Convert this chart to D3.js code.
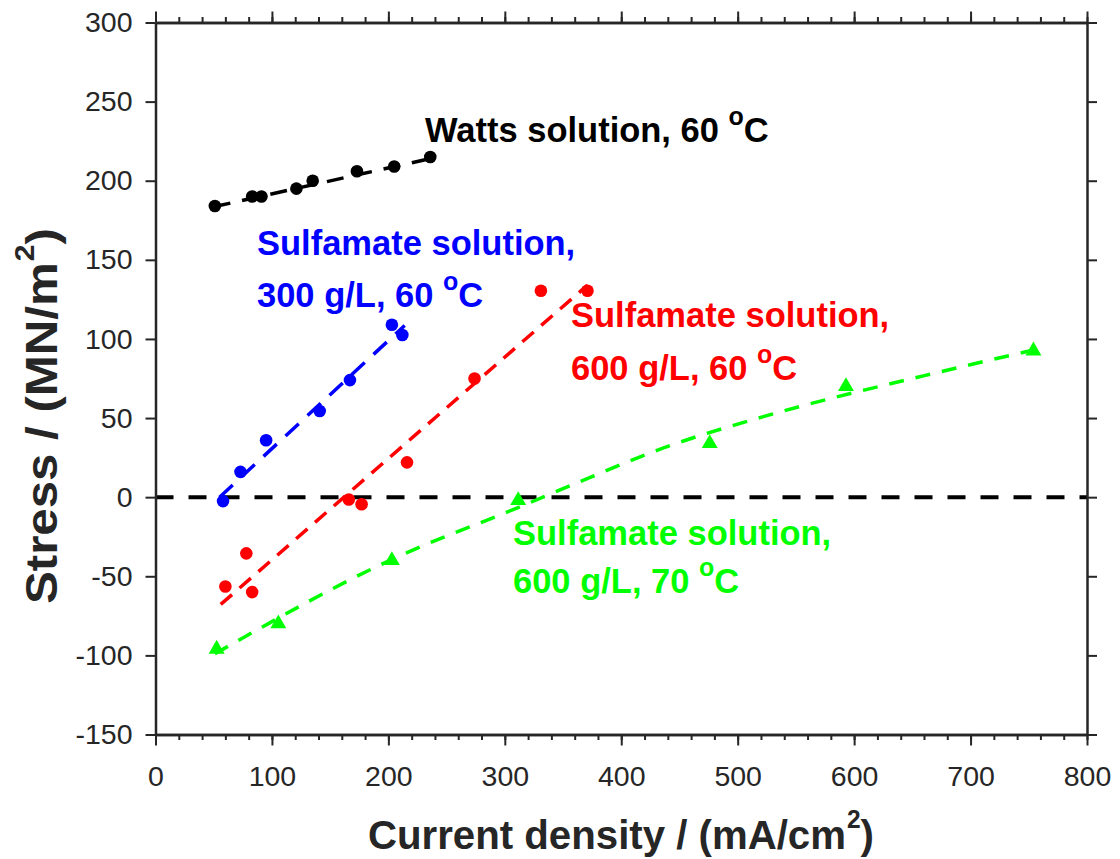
<!DOCTYPE html>
<html lang="en">

<head>
  <meta charset="UTF-8">
  <title>Stress vs current density</title>
  <script src="https://d3js.org/d3.v7.min.js"></script>
  <style>
    body {
      margin: 0;
      background: white;
    }

    svg {
      display: block;
      font-family: "Liberation Sans", Arial, sans-serif;
    }

    .tick text {
      font-size: 28.5px;
      fill: #262626;
    }

    .label {
      font-size: 34.5px;
      font-weight: bold;
    }

    .title {
      font-weight: bold;
      fill: #262626;
    }
  </style>
</head>

<body>
  <div id="chart"></div>

  <script>
    // Watts solution, 60 C
    const wattsX = [51, 83, 91, 121, 135, 173, 205, 236]
    const wattsY = [184, 190, 190, 195, 200, 206, 209, 215]
    const wattsFitX = [50, 236]
    const wattsFitY = [183.5, 214]

    // Sulfamate 300 g/L, 60 C
    const s300X = [58, 73, 95, 141, 167, 203, 212]
    const s300Y = [-2.5, 16, 36, 54.5, 74, 109, 102.5]
    const s300FitX = [55, 214]
    const s300FitY = [0, 108.5]

    // Sulfamate 600 g/L, 60 C
    const s600X = [60, 78, 83, 166, 177, 216, 274, 331, 371]
    const s600Y = [-56.5, -35.5, -60, -1.5, -4.5, 22, 75, 130.5, 130.5]
    const s600FitX = [56, 371]
    const s600FitY = [-67.8, 134]

    // Sulfamate 600 g/L, 70 C
    const s70X = [52.5, 105.5, 203, 311.5, 476, 593, 754]
    const s70Y = [-96, -80, -40, -2, 34, 70, 92.5]
    const s70FitX = [51, 204, 316, 357, 445, 516, 686, 754]
    const s70FitY = [-99, -39, -5.2, 7.5, 33.4, 49.6, 81.3, 93]

    const xTicks = [0, 100, 200, 300, 400, 500, 600, 700, 800]
    const yTicks = [-150, -100, -50, 0, 50, 100, 150, 200, 250, 300]

    const width = 1120
    const height = 859
    const mLeft = 155.5, mRight = 1087, mTop = 22.5, mBottom = 734.5
    const axisColor = "#262626"

    const svg = d3.select("#chart")
      .append("svg")
      .attr("width", width)
      .attr("height", height)

    const x = d3.scaleLinear().domain([0, 800]).range([mLeft, mRight])
    const y = d3.scaleLinear().domain([-150, 300]).range([mBottom, mTop])

    const zip = (xs, ys) => xs.map((v, i) => [v, ys[i]])
    const line = d3.line().x(d => x(d[0])).y(d => y(d[1]))
    const curve = d3.line().x(d => x(d[0])).y(d => y(d[1])).curve(d3.curveMonotoneX)

    // zero line
    svg.append("path")
      .attr("d", line([[0, 0], [800, 0]]))
      .attr("stroke", "black")
      .attr("stroke-width", 4)
      .attr("stroke-dasharray", "18,15")
      .attr("fill", "none")

    const series = [
      { xs: wattsX, ys: wattsY, fx: wattsFitX, fy: wattsFitY, color: "#000000", dash: "17,12", shape: "circle" },
      { xs: s300X, ys: s300Y, fx: s300FitX, fy: s300FitY, color: "#0000ff", dash: "18,12", shape: "circle" },
      { xs: s600X, ys: s600Y, fx: s600FitX, fy: s600FitY, color: "#ff0000", dash: "15,10", shape: "circle" },
      { xs: s70X, ys: s70Y, fx: s70FitX, fy: s70FitY, color: "#00ff00", dash: "15,12", shape: "triangle" }
    ]

    series.forEach(s => {
      svg.append("path")
        .attr("d", s.fx.length > 2 ? curve(zip(s.fx, s.fy)) : line(zip(s.fx, s.fy)))
        .attr("stroke", s.color)
        .attr("stroke-width", 3.5)
        .attr("stroke-dasharray", s.dash)
        .attr("fill", "none")

      const pts = zip(s.xs, s.ys)
      if (s.shape === "circle") {
        svg.selectAll(null)
          .data(pts)
          .enter()
          .append("circle")
          .attr("cx", d => x(d[0]))
          .attr("cy", d => y(d[1]))
          .attr("r", 6.3)
          .attr("fill", s.color)
      } else {
        svg.selectAll(null)
          .data(pts)
          .enter()
          .append("path")
          .attr("d", d3.symbol(d3.symbolTriangle).size(110))
          .attr("transform", d => `translate(${x(d[0])},${y(d[1])})`)
          .attr("fill", s.color)
      }
    })

    // axes
    const minorX = d3.range(0, 801, 20)
    const plain = d => String(d)

    const styleAxis = g => {
      g.select(".domain").attr("stroke", axisColor).attr("stroke-width", 2.5)
      g.selectAll(".tick line").attr("stroke", axisColor).attr("stroke-width", 2)
    }

    svg.append("g")
      .attr("transform", `translate(0,${mBottom})`)
      .call(d3.axisBottom(x).tickValues(minorX).tickSize(5.5).tickSizeOuter(0).tickFormat(""))
      .call(styleAxis)
    svg.append("g")
      .attr("transform", `translate(0,${mBottom})`)
      .call(d3.axisBottom(x).tickValues(xTicks).tickSize(11).tickSizeOuter(0).tickPadding(20).tickFormat(plain))
      .call(styleAxis)
      .call(g => g.selectAll(".tick text").attr("font-family", "Liberation Sans, Arial, sans-serif"))

    svg.append("g")
      .attr("transform", `translate(0,${mTop})`)
      .call(d3.axisTop(x).tickValues(minorX).tickSize(5.5).tickSizeOuter(0).tickFormat(""))
      .call(styleAxis)
    svg.append("g")
      .attr("transform", `translate(0,${mTop})`)
      .call(d3.axisTop(x).tickValues(xTicks).tickSize(11).tickSizeOuter(0).tickFormat(""))
      .call(styleAxis)

    svg.append("g")
      .attr("transform", `translate(${mLeft},0)`)
      .call(d3.axisLeft(y).tickValues(yTicks).tickSize(10).tickSizeOuter(0).tickPadding(13).tickFormat(plain))
      .call(styleAxis)
      .call(g => g.selectAll(".tick text").attr("font-family", "Liberation Sans, Arial, sans-serif"))

    svg.append("g")
      .attr("transform", `translate(${mRight},0)`)
      .call(d3.axisRight(y).tickValues(yTicks).tickSize(10).tickSizeOuter(0).tickFormat(""))
      .call(styleAxis)

    // annotations
    const labels = [
      { lines: ["Watts solution, 60 "], x: 425, y: 141.7, color: "#000000" },
      { lines: ["Sulfamate solution,", "300 g/L, 60 "], x: 257, y: 255, color: "#0000ff" },
      { lines: ["Sulfamate solution,", "600 g/L, 60 "], x: 571, y: 327, color: "#ff0000" },
      { lines: ["Sulfamate solution,", "600 g/L, 70 "], x: 513, y: 545, color: "#00ff00" }
    ]
    const lineGap = [0, 52, 53, 48]

    labels.forEach((l, k) => {
      l.lines.forEach((t, i) => {
        const last = i === l.lines.length - 1
        const txt = svg.append("text")
          .attr("class", "label")
          .attr("x", l.x)
          .attr("y", l.y + i * lineGap[k])
          .attr("fill", l.color)
        txt.append("tspan").text(t)
        if (last) {
          txt.append("tspan").attr("font-size", "25px").attr("dy", -17).text("o")
          txt.append("tspan").attr("dy", 17).text("C")
        }
      })
    })

    // axis titles
    const xt = svg.append("text")
      .attr("class", "title")
      .attr("x", 621)
      .attr("y", 849)
      .attr("text-anchor", "middle")
      .attr("font-size", "41px")
      .attr("textLength", 506)
      .attr("lengthAdjust", "spacingAndGlyphs")
    xt.append("tspan").text("Current density / (mA/cm")
    xt.append("tspan").attr("font-size", "25px").attr("dy", -21).attr("dx", 1).text("2")
    xt.append("tspan").attr("dy", 21).text(")")

    const yt = svg.append("text")
      .attr("class", "title")
      .attr("transform", "translate(57,416) rotate(-90)")
      .attr("text-anchor", "middle")
      .attr("font-size", "44px")
      .attr("textLength", 376)
      .attr("lengthAdjust", "spacingAndGlyphs")
    yt.append("tspan").text("Stress / (MN/m")
    yt.append("tspan").attr("font-size", "27px").attr("dy", -23).attr("dx", 1).text("2")
    yt.append("tspan").attr("dy", 23).text(")")
  </script>
</body>

</html>
